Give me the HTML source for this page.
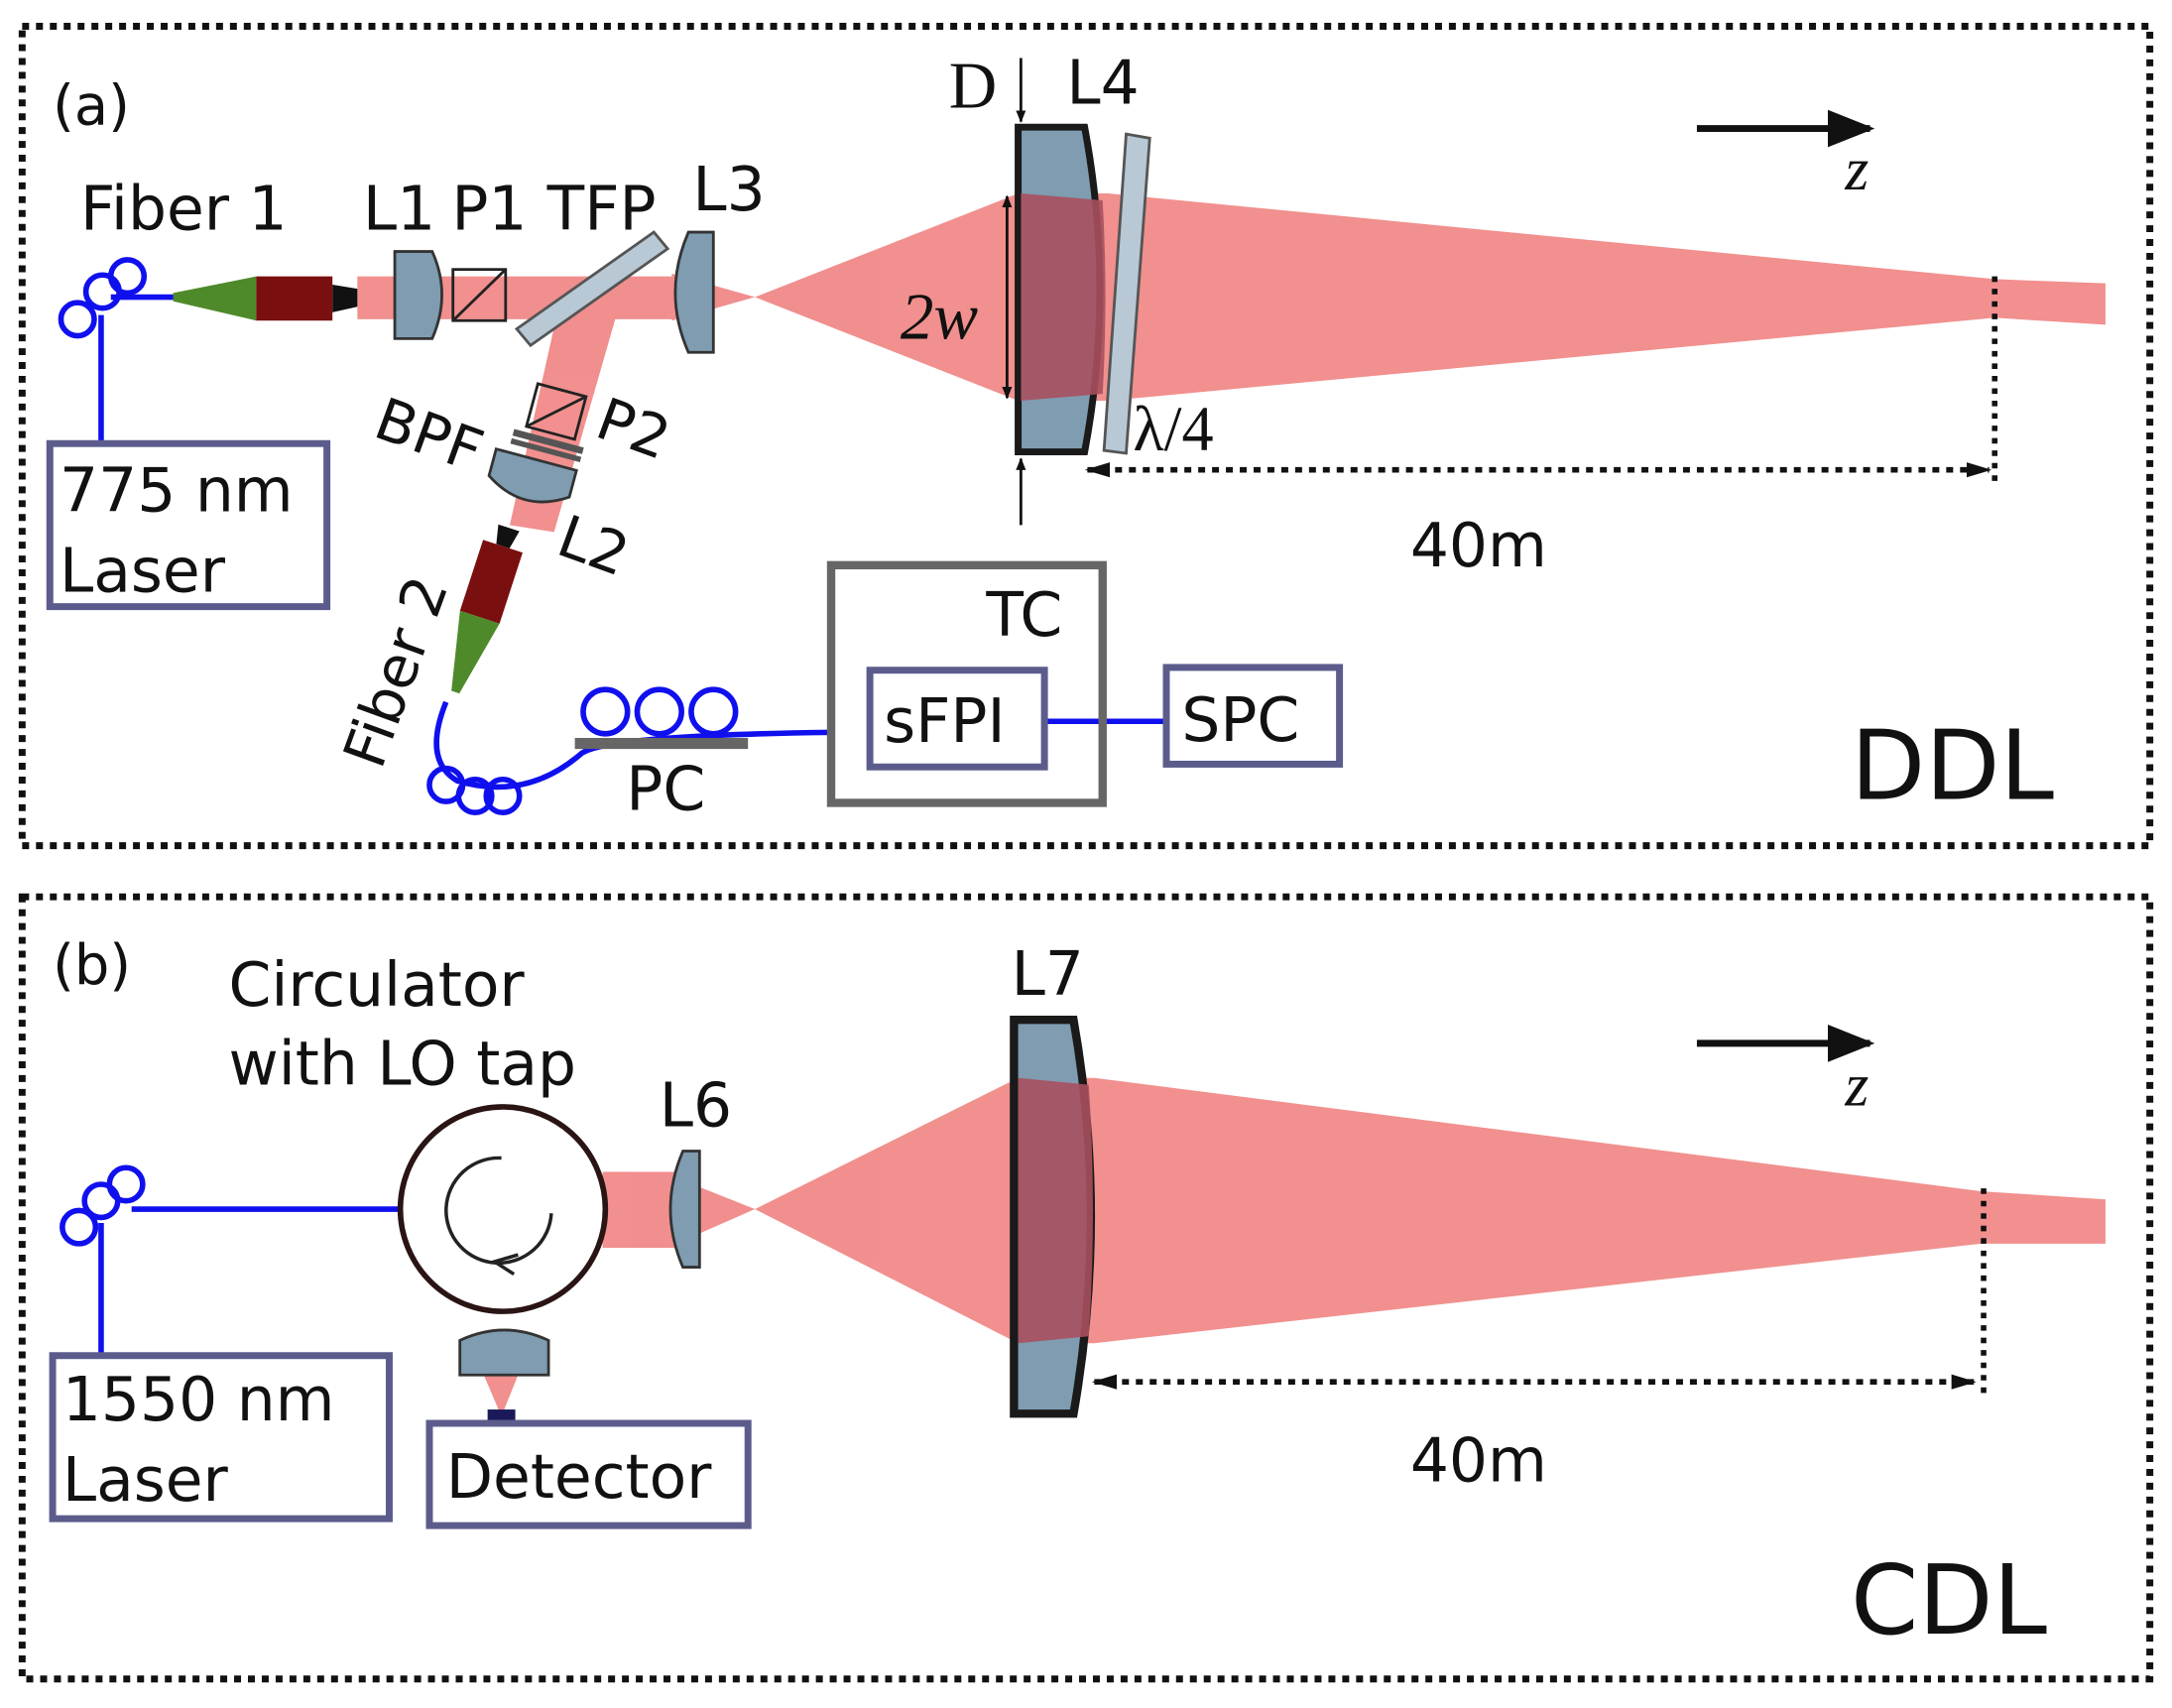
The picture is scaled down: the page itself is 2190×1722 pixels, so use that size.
<!DOCTYPE html>
<html><head><meta charset="utf-8"><style>
html,body{margin:0;padding:0;background:#fff;}
svg{display:block;}
text{font-family:"DejaVu Sans","Liberation Sans",sans-serif;fill:#111;}
.s{font-family:"Liberation Serif",serif;}
</style></head><body>
<svg width="2190" height="1722" viewBox="0 0 1568 1236" preserveAspectRatio="none" xmlns="http://www.w3.org/2000/svg">
<defs>
<marker id="ah" viewBox="0 0 10 10" refX="9" refY="5" markerWidth="9" markerHeight="9" orient="auto-start-reverse" markerUnits="userSpaceOnUse"><path d="M0,1 L10,5 L0,9 z" fill="#111"/></marker>
<marker id="ahb" viewBox="0 0 10 10" refX="9" refY="5" markerWidth="34" markerHeight="34" orient="auto" markerUnits="userSpaceOnUse"><path d="M0,1 L10,5 L0,9 z" fill="#111"/></marker>
<marker id="ahd" viewBox="0 0 10 10" refX="9" refY="5" markerWidth="30" markerHeight="18" orient="auto-start-reverse" markerUnits="userSpaceOnUse"><path d="M0,2 L10,5 L0,8 z" fill="#111"/></marker>
</defs>
<rect x="16" y="19" width="1536" height="593" fill="none" stroke="#111" stroke-width="5" stroke-dasharray="5,5"/>
<rect x="16" y="649" width="1536" height="566" fill="none" stroke="#111" stroke-width="5" stroke-dasharray="5,5"/>

<!-- ===== Panel a ===== -->
<text x="38" y="90" font-size="40">(a)</text>
<text x="58" y="166" font-size="44">Fiber 1</text>
<text x="262" y="166" font-size="44">L1</text>
<text x="326" y="166" font-size="44">P1</text>
<text x="395" y="166" font-size="44">TFP</text>
<text x="500" y="152" font-size="44">L3</text>
<text x="770" y="75" font-size="44">L4</text>
<text x="685" y="78" font-size="48" class="s">D</text>

<g fill="#f08a88" opacity="0.95">
<rect x="258" y="200" width="230" height="31"/>
<polygon points="485,198 545,215 485,232"/>
<polygon points="545,215 735,140 800,140 1440,202 1520,205 1520,235 1440,230 800,290 735,290"/>
<polygon points="402,228 445,228 400,385 368,380"/>
</g>
<g stroke="#1010ee" stroke-width="4" fill="none">
<circle cx="56" cy="231" r="12"/><circle cx="74" cy="211" r="12"/><circle cx="92" cy="200" r="12"/>
<path d="M80,215 L128,215"/><path d="M73,228 L73,320"/>
</g>
<polygon points="125,212 185,200 185,232 125,218" fill="#4f8a2a"/>
<rect x="185" y="200" width="55" height="32" fill="#7a0f0f"/>
<polygon points="240,206 258,209 258,222 240,226" fill="#111"/>
<path d="M285,182 L312,182 Q326,213 312,245 L285,245 Z" fill="#7f9cb0" stroke="#333" stroke-width="2"/>
<rect x="327" y="195" width="38" height="37" fill="none" stroke="#222" stroke-width="2"/>
<line x1="327" y1="232" x2="365" y2="195" stroke="#222" stroke-width="2"/>
<polygon points="373,238 472,168 482,180 383,250" fill="#b8c8d4" stroke="#555" stroke-width="2"/>
<path d="M497,168 L515,168 L515,255 L497,255 Q478,212 497,168 Z" fill="#7f9cb0" stroke="#333" stroke-width="2"/>
<g transform="rotate(15 402 300)">
<rect x="383" y="282" width="36" height="32" fill="none" stroke="#222" stroke-width="2"/>
<line x1="383" y1="314" x2="419" y2="282" stroke="#222" stroke-width="2"/>
<rect x="375" y="318" width="52" height="5" fill="#555"/>
<rect x="375" y="325" width="52" height="4" fill="#555"/>
</g>
<g transform="rotate(15 382 352)">
<path d="M352,332 L412,332 L412,352 Q382,372 352,352 Z" fill="#7f9cb0" stroke="#333" stroke-width="2"/>
</g>
<text x="268" y="315" font-size="42" transform="rotate(20 268 315)">BPF</text>
<text x="428" y="315" font-size="42" transform="rotate(20 428 315)">P2</text>
<text x="400" y="400" font-size="42" transform="rotate(20 400 400)">L2</text>
<g transform="rotate(18 355 420)">
<polygon points="347,380 363,380 360,394 350,394" fill="#111"/>
<rect x="340" y="394" width="30" height="54" fill="#7a0f0f"/>
<polygon points="340,448 370,448 358,505 352,505" fill="#4f8a2a"/>
</g>
<text x="275" y="558" font-size="42" transform="rotate(-70 275 558)">Fiber 2</text>
<g stroke="#1010ee" stroke-width="4" fill="none">
<path d="M322,508 Q305,550 330,565 Q380,580 420,545 Q440,532 600,530"/>
<circle cx="322" cy="568" r="12"/><circle cx="343" cy="576" r="12"/><circle cx="363" cy="576" r="12"/>
<circle cx="437" cy="515" r="16"/><circle cx="476" cy="515" r="16"/><circle cx="515" cy="515" r="16"/>
<path d="M755,522 L840,522"/>
</g>
<rect x="415" y="534" width="125" height="8" fill="#666"/>
<text x="452" y="586" font-size="44">PC</text>
<rect x="600" y="409" width="196" height="172" fill="none" stroke="#666" stroke-width="6"/>
<text x="712" y="460" font-size="44">TC</text>
<rect x="628" y="485" width="126" height="70" fill="#fff" stroke="#5c5c8c" stroke-width="5"/>
<text x="638" y="537" font-size="44">sFPI</text>
<rect x="842" y="483" width="125" height="70" fill="#fff" stroke="#5c5c8c" stroke-width="5"/>
<text x="853" y="536" font-size="44">SPC</text>
<rect x="36" y="321" width="200" height="118" fill="#fff" stroke="#5c5c8c" stroke-width="5"/>
<text x="43" y="370" font-size="44">775 nm</text>
<text x="43" y="428" font-size="44">Laser</text>
<path d="M735,92 L783,92 Q805,210 783,327 L735,327 Z" fill="#7f9cb0" stroke="#1a1a1a" stroke-width="5"/>
<path d="M737,140 L796,145 Q800,215 796,285 L737,290 Z" fill="#a8505e" opacity="0.9"/>
<polygon points="813,97 830,100 813,328 797,326" fill="#b8c8d4" stroke="#555" stroke-width="2"/>
<text x="818" y="326" font-size="46" class="s">λ/4</text>
<line x1="737" y1="42" x2="737" y2="88" stroke="#111" stroke-width="2" marker-end="url(#ah)"/>
<line x1="737" y1="380" x2="737" y2="332" stroke="#111" stroke-width="2" marker-end="url(#ah)"/>
<line x1="727" y1="142" x2="727" y2="288" stroke="#111" stroke-width="2" marker-end="url(#ah)" marker-start="url(#ah)"/>
<text x="650" y="245" font-size="48" class="s" font-style="italic">2w</text>
<line x1="1225" y1="93" x2="1350" y2="93" stroke="#111" stroke-width="5" marker-end="url(#ahb)"/>
<text x="1332" y="137" font-size="44" class="s" font-style="italic">z</text>
<line x1="1440" y1="200" x2="1440" y2="352" stroke="#111" stroke-width="4" stroke-dasharray="4,5"/>
<line x1="785" y1="340" x2="1436" y2="340" stroke="#111" stroke-width="4" stroke-dasharray="5,5" marker-end="url(#ahd)" marker-start="url(#ahd)"/>
<text x="1018" y="410" font-size="44">40m</text>
<text x="1336" y="578" font-size="70">DDL</text>

<!-- ===== Panel b ===== -->
<text x="38" y="712" font-size="40">(b)</text>
<text x="165" y="728" font-size="44">Circulator</text>
<text x="165" y="785" font-size="44">with LO tap</text>
<text x="730" y="720" font-size="44">L7</text>
<text x="476" y="815" font-size="44">L6</text>
<g fill="#f08a88" opacity="0.95">
<rect x="435" y="848" width="60" height="55"/>
<polygon points="495,855 545,875 495,897"/>
<polygon points="545,875 735,780 790,780 1430,862 1520,868 1520,900 1430,900 790,972 735,972"/>
<polygon points="345,985 378,985 362,1025"/>
</g>
<g stroke="#1010ee" stroke-width="4" fill="none">
<circle cx="57" cy="888" r="12"/><circle cx="73" cy="869" r="12"/><circle cx="91" cy="857" r="12"/>
<path d="M95,875 L288,875"/><path d="M73,885 L73,983"/>
</g>
<circle cx="363" cy="875" r="74" fill="#fff" stroke="#2a1414" stroke-width="4"/>
<path d="M398,878 A38,38 0 1 1 362,838" fill="none" stroke="#222" stroke-width="2.5"/>
<path d="M374,908 L357,913 L371,922" fill="none" stroke="#222" stroke-width="2.5"/>
<path d="M493,833 L505,833 L505,917 L493,917 Q475,875 493,833 Z" fill="#7f9cb0" stroke="#333" stroke-width="2"/>
<path d="M332,995 L396,995 L396,970 Q364,955 332,970 Z" fill="#7f9cb0" stroke="#333" stroke-width="2"/>
<rect x="352" y="1020" width="20" height="8" fill="#1a1a5a"/>
<rect x="310" y="1030" width="230" height="74" fill="#fff" stroke="#5c5c8c" stroke-width="5"/>
<text x="322" y="1084" font-size="44">Detector</text>
<rect x="38" y="981" width="243" height="118" fill="#fff" stroke="#5c5c8c" stroke-width="5"/>
<text x="45" y="1028" font-size="44">1550 nm</text>
<text x="45" y="1086" font-size="44">Laser</text>
<path d="M732,738 L775,738 Q800,880 775,1023 L732,1023 Z" fill="#7f9cb0" stroke="#1a1a1a" stroke-width="6"/>
<path d="M735,780 L786,785 Q792,876 786,967 L735,972 Z" fill="#a8505e" opacity="0.9"/>
<line x1="1225" y1="755" x2="1350" y2="755" stroke="#111" stroke-width="5" marker-end="url(#ahb)"/>
<text x="1332" y="800" font-size="44" class="s" font-style="italic">z</text>
<line x1="1432" y1="860" x2="1432" y2="1010" stroke="#111" stroke-width="4" stroke-dasharray="4,5"/>
<line x1="790" y1="1000" x2="1425" y2="1000" stroke="#111" stroke-width="4" stroke-dasharray="5,5" marker-end="url(#ahd)" marker-start="url(#ahd)"/>
<text x="1018" y="1072" font-size="44">40m</text>
<text x="1336" y="1182" font-size="70">CDL</text>
</svg>
</body></html>
